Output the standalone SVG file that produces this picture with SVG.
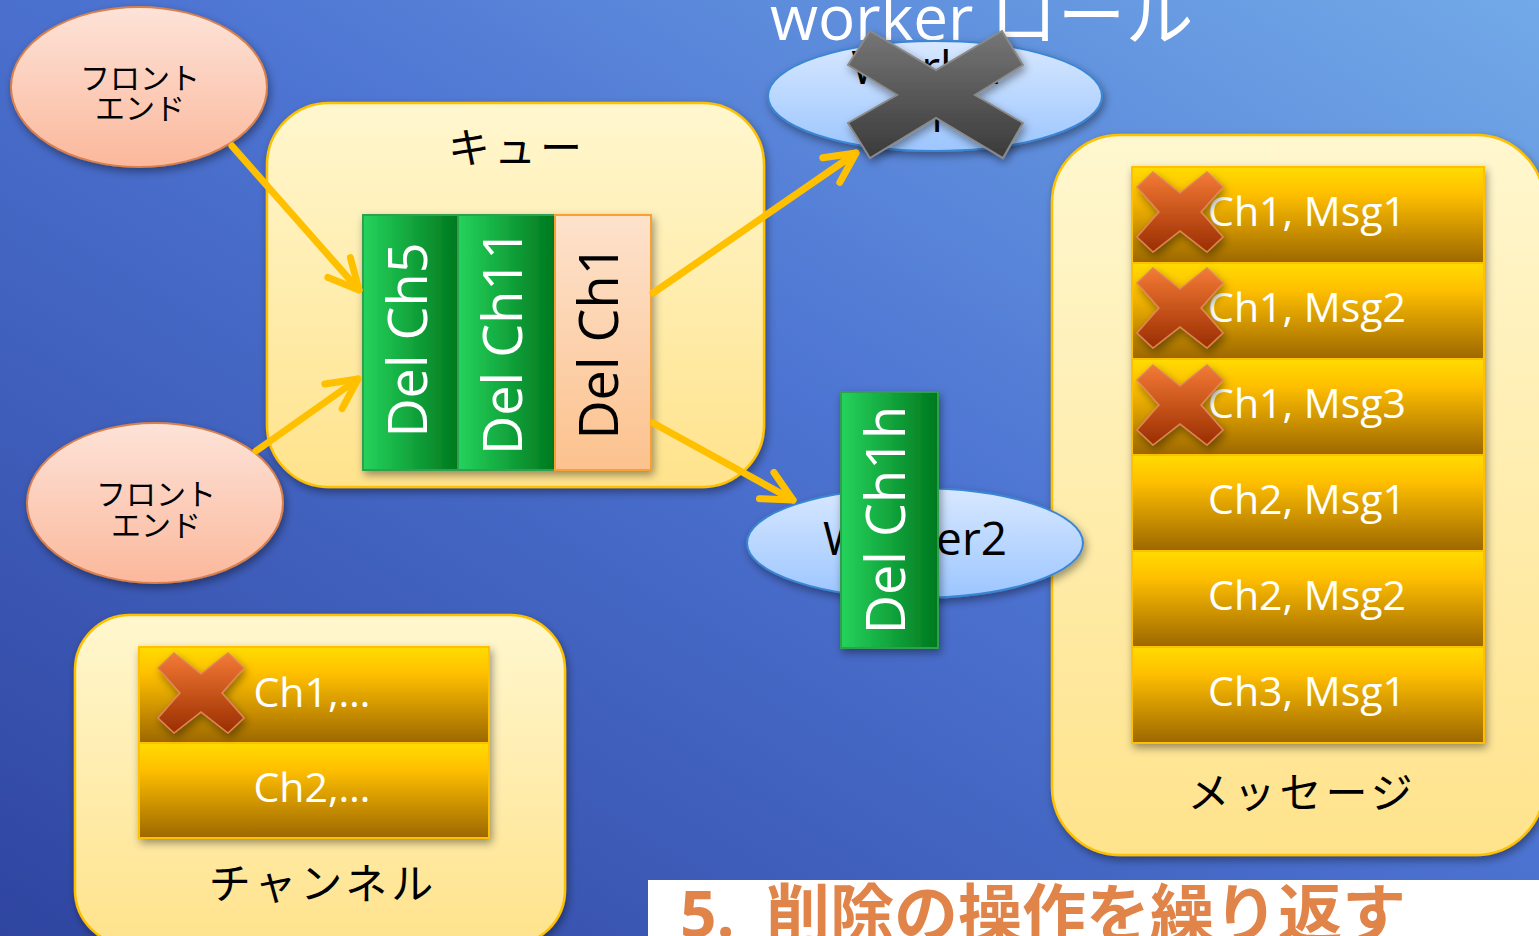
<svg xmlns="http://www.w3.org/2000/svg" width="1539" height="936" viewBox="0 0 1539 936">
<defs>
<style>
.lat{font-family:"Open Sans","Noto Sans",sans-serif}
.jp{font-family:"Noto Sans CJK JP","Noto Sans",sans-serif}
.box{fill:url(#gBox);stroke:#ffc000;stroke-width:2.5}
.row{fill:url(#gRow);stroke:#ffc000;stroke-width:2}
.rowtxt{font-family:"Open Sans","Noto Sans",sans-serif;font-size:41px;fill:#fff;text-anchor:middle}
.fe{fill:url(#gFe);stroke:#d9804c;stroke-width:2}
.fetxt{font-family:"Noto Sans CJK JP",sans-serif;font-size:30px;fill:#000;text-anchor:middle}
.wk{fill:url(#gWk);stroke:#3a86d4;stroke-width:2}
.green{fill:url(#gGreen);stroke:#2fa050;stroke-width:2}
.coltxt{font-family:"Open Sans","Noto Sans",sans-serif;font-size:54px;text-anchor:middle}
.label{font-family:"Noto Sans CJK JP",sans-serif;font-size:42px;fill:#000;text-anchor:middle;letter-spacing:4px}
.arrow{fill:none;stroke:#ffc000;stroke-width:7;stroke-linecap:round;marker-end:url(#head)}
.redx{fill:url(#gRedX);stroke:#e0845a;stroke-width:1.5;filter:url(#sh)}
</style>
<linearGradient id="gBg" x1="1" y1="0" x2="0" y2="1">
<stop offset="0" stop-color="#72aae8"/>
<stop offset="0.45" stop-color="#4d74d2"/>
<stop offset="1" stop-color="#2f45a0"/>
</linearGradient>
<linearGradient id="gBox" x1="0" y1="0" x2="0" y2="1">
<stop offset="0" stop-color="#fff7cf"/>
<stop offset="1" stop-color="#ffe38c"/>
</linearGradient>
<linearGradient id="gRow" x1="0" y1="0" x2="0" y2="1">
<stop offset="0" stop-color="#ffdc00"/>
<stop offset="0.28" stop-color="#ffbf00"/>
<stop offset="1" stop-color="#9c6700"/>
</linearGradient>
<linearGradient id="gFe" x1="0" y1="0" x2="0" y2="1">
<stop offset="0" stop-color="#fde3d8"/>
<stop offset="1" stop-color="#fbb89c"/>
</linearGradient>
<linearGradient id="gWk" x1="0" y1="0" x2="0" y2="1">
<stop offset="0" stop-color="#d8e8ff"/>
<stop offset="1" stop-color="#9cc6ff"/>
</linearGradient>
<linearGradient id="gGreen" x1="0" y1="0" x2="1" y2="0">
<stop offset="0" stop-color="#25d35c"/>
<stop offset="1" stop-color="#00781e"/>
</linearGradient>
<linearGradient id="gPeach" x1="0" y1="0" x2="0" y2="1">
<stop offset="0" stop-color="#fde2cc"/>
<stop offset="1" stop-color="#fcc28e"/>
</linearGradient>
<linearGradient id="gRedX" x1="0" y1="0" x2="0" y2="1">
<stop offset="0" stop-color="#f47a36"/>
<stop offset="1" stop-color="#9a2e00"/>
</linearGradient>
<linearGradient id="gGrayX" x1="0" y1="0" x2="0" y2="1">
<stop offset="0" stop-color="#767676"/>
<stop offset="1" stop-color="#3a3a3a"/>
</linearGradient>
<filter id="sh" x="-20%" y="-20%" width="140%" height="150%">
<feDropShadow dx="2" dy="4" stdDeviation="4" flood-color="#000" flood-opacity="0.4"/>
</filter>
<marker id="head" markerUnits="userSpaceOnUse" markerWidth="60" markerHeight="60" refX="0" refY="0" orient="auto" overflow="visible">
<path d="M-30,-15 L0,0 L-30,15" fill="none" stroke="#ffc000" stroke-width="7" stroke-linecap="round" stroke-linejoin="round"/>
</marker>
<polygon id="xshape" points="-27,-40 0,-19 27,-40 43,-25 21,0 43,25 27,40 0,19 -27,40 -43,25 -21,0 -43,-25"/>
</defs>

<rect x="0" y="0" width="1539" height="936" fill="url(#gBg)"/>

<g id="title-worker">
<text class="lat" x="770" y="40" font-size="62" fill="#fff"><tspan>worker </tspan><tspan class="jp" font-size="68">ロール</tspan></text>
</g>

<g id="queue">
<rect class="box" x="267" y="103" width="497" height="384" rx="62" filter="url(#sh)"/>
<text class="label" x="517" y="163" font-size="44">キュー</text>
</g>

<g id="messages">
<rect class="box" x="1052" y="135" width="492" height="720" rx="68" filter="url(#sh)"/>
<g filter="url(#sh)">
<rect class="row" x="1132" y="167" width="352" height="96"/>
<rect class="row" x="1132" y="263" width="352" height="96"/>
<rect class="row" x="1132" y="359" width="352" height="96"/>
<rect class="row" x="1132" y="455" width="352" height="96"/>
<rect class="row" x="1132" y="551" width="352" height="96"/>
<rect class="row" x="1132" y="647" width="352" height="96"/>
</g>
<text class="rowtxt" x="1307" y="226">Ch1, Msg1</text>
<text class="rowtxt" x="1307" y="322">Ch1, Msg2</text>
<text class="rowtxt" x="1307" y="418">Ch1, Msg3</text>
<text class="rowtxt" x="1307" y="514">Ch2, Msg1</text>
<text class="rowtxt" x="1307" y="610">Ch2, Msg2</text>
<text class="rowtxt" x="1307" y="706">Ch3, Msg1</text>
<use href="#xshape" class="redx" x="1180" y="212"/>
<use href="#xshape" class="redx" x="1180" y="308"/>
<use href="#xshape" class="redx" x="1180" y="405"/>
<text class="label" x="1302" y="808">メッセージ</text>
</g>

<g id="channels">
<rect class="box" x="75" y="615" width="490" height="330" rx="55" filter="url(#sh)"/>
<g filter="url(#sh)">
<rect class="row" x="139" y="647" width="350" height="96"/>
<rect class="row" x="139" y="743" width="350" height="95"/>
</g>
<text class="rowtxt" x="312" y="707">Ch1,…</text>
<text class="rowtxt" x="312" y="802">Ch2,…</text>
<use href="#xshape" class="redx" x="201" y="693"/>
<text class="label" x="323" y="899">チャンネル</text>
</g>

<g id="frontend1">
<ellipse class="fe" cx="139" cy="87" rx="128" ry="80" filter="url(#sh)"/>
<text class="fetxt" x="140" y="89">フロント</text>
<text class="fetxt" x="140" y="119">エンド</text>
</g>

<g id="frontend2">
<ellipse class="fe" cx="155" cy="503" rx="128" ry="80" filter="url(#sh)"/>
<text class="fetxt" x="156" y="505">フロント</text>
<text class="fetxt" x="156" y="536">エンド</text>
</g>

<g id="queue-items">
<g filter="url(#sh)">
<rect class="green" x="363" y="215" width="95" height="255"/>
<rect class="green" x="458" y="215" width="97" height="255"/>
<rect x="555" y="215" width="96" height="255" fill="url(#gPeach)" stroke="#f8a030" stroke-width="2"/>
</g>
<text class="coltxt" fill="#fff" transform="translate(427,340) rotate(-90)">Del Ch5</text>
<text class="coltxt" fill="#fff" transform="translate(522,342) rotate(-90)">Del Ch11</text>
<text class="coltxt" fill="#000" transform="translate(618,342) rotate(-90)">Del Ch1</text>
</g>

<g id="worker1">
<ellipse class="wk" cx="935" cy="96" rx="167" ry="55" filter="url(#sh)"/>
<text class="lat" x="930" y="84" font-size="46" text-anchor="middle" fill="#000">Worker</text>
<text class="lat" x="936" y="132" font-size="46" text-anchor="middle" fill="#000">1</text>
</g>

<g id="worker2">
<ellipse class="wk" cx="915" cy="543" rx="168" ry="55" filter="url(#sh)"/>
<text class="lat" x="915" y="555" font-size="46" text-anchor="middle" fill="#000">Worker2</text>
</g>

<g id="connectors">
<line class="arrow" x1="232" y1="146" x2="359" y2="290"/>
<line class="arrow" x1="256" y1="451" x2="358" y2="379"/>
<line class="arrow" x1="653" y1="293" x2="856" y2="153"/>
<line class="arrow" x1="653" y1="423" x2="793" y2="500"/>
</g>

<g id="del-ch1h">
<rect class="green" x="841" y="392" width="97" height="256" filter="url(#sh)"/>
<text class="coltxt" fill="#fff" transform="translate(905,520) rotate(-90)">Del Ch1h</text>
</g>

<g id="worker1-cross">
<polygon points="870,31 936,70 1002,31 1023,65 975,95 1023,123 1003,158 936,118 870,158 848,123 897,95 848,65" fill="url(#gGrayX)" stroke="#8a8a8a" stroke-width="2" filter="url(#sh)"/>
</g>

<g id="caption">
<rect x="648" y="880" width="891" height="60" fill="#fff"/>
<text y="937" font-size="64" font-weight="bold" fill="#e0844a" class="jp"><tspan class="lat" x="680">5.</tspan><tspan x="766">削除の操作を繰り返す</tspan></text>
</g>
</svg>
